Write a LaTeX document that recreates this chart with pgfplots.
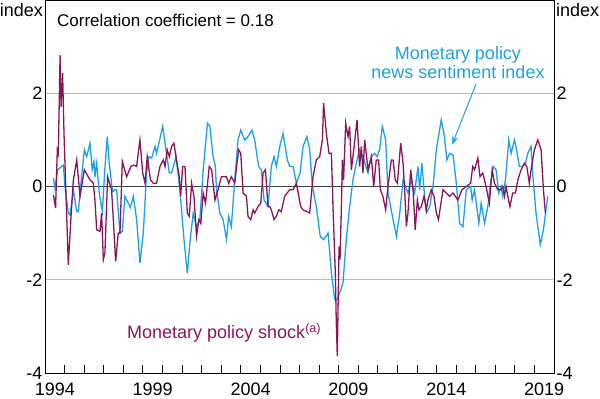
\documentclass[border=0pt]{standalone}
\usepackage{pgfplots}
\pgfplotsset{compat=1.18}
\usetikzlibrary{arrows.meta}
\usepackage{fontspec}
\setmainfont{Liberation Sans}
\definecolor{mpurple}{RGB}{138,22,90}
\definecolor{mblue}{RGB}{30,160,225}
\begin{document}
\begin{tikzpicture}
\path[use as bounding box] (0,0) rectangle (600bp,399bp);
\begin{axis}[
  scale only axis, width=509bp, height=373bp,
  at={(45bp,26bp)}, anchor=south west,
  xmin=1994, xmax=2020, ymin=-4, ymax=4,
  axis line style={line width=0.8bp},
  xtick={1994.5,1999.5,2004.5,2009.5,2014.5,2019.5},
  xticklabels={1994,1999,2004,2009,2014,2019},
  minor xtick={1995,...,2019},
  ytick={-4,-2,0,2},
  yticklabels={-4,-2,0,2},
  major tick length=0pt, minor tick length=8bp,
  tick align=inside,
  xtick pos=left, ytick pos=left,
  tick style={black, line width=0.8bp},
  ymajorgrids, grid style={gray!55, line width=0.8bp},
  ticklabel style={font=\fontsize{18bp}{20bp}\selectfont},
  xticklabel style={yshift=-6bp},
  yticklabel style={xshift=1bp},
  clip=false,
]
\addplot[black!75, line width=1.3bp, forget plot] coordinates {(1994,0) (2020,0)};
\addplot[mblue, line width=1.3bp] coordinates {
(1994.43,0.18)(1994.51,-0.04)(1994.65,0.36)(1994.94,0.46)(1995.02,0)(1995.19,-0.57)(1995.28,-0.61)(1995.45,-0.07)(1995.62,-0.54)(1995.70,-0.54)(1995.87,0.21)(1996.01,0.79)(1996.13,0.64)(1996.30,0.93)(1996.41,0.36)(1996.50,0.54)(1996.55,0.21)(1996.64,0.5)(1996.77,-0.14)(1996.93,-0.54)(1997.06,0.39)(1997.18,1.07)(1997.28,0.5)(1997.45,-0.11)(1997.57,-0.07)(1997.66,-0.07)(1997.83,-1.0)(1997.95,-0.96)(1998.08,-0.21)(1998.36,-0.45)(1998.51,-0.21)(1998.68,-0.71)(1998.85,-1.64)(1999.02,-1.0)(1999.19,0.29)(1999.31,0.64)(1999.45,0.61)(1999.62,0.86)(1999.70,0.71)(2000.01,1.29)(2000.18,0.79)(2000.35,0.29)(2000.47,0.29)(2000.69,0.64)(2000.89,-0.07)(2001.10,-1.14)(2001.27,-1.86)(2001.40,-1.21)(2001.57,-0.57)(2001.74,-0.86)(2001.91,-0.71)(2002.08,0.36)(2002.30,1.36)(2002.42,1.29)(2002.59,0.64)(2002.70,0.43)(2002.76,-0.07)(2002.93,-0.57)(2003.10,-0.71)(2003.27,-1.14)(2003.38,-0.64)(2003.52,-0.86)(2003.69,0.14)(2003.86,1.0)(2004.00,1.21)(2004.20,1.0)(2004.37,1.07)(2004.57,1.21)(2004.71,1.0)(2004.91,0.43)(2005.05,0.36)(2005.19,-0.29)(2005.39,-0.43)(2005.56,0.43)(2005.70,0.64)(2005.82,0.43)(2005.99,0.86)(2006.16,1.14)(2006.38,0.57)(2006.50,0.43)(2006.67,0.43)(2006.84,0.07)(2007.03,0.29)(2007.18,0.86)(2007.38,1.07)(2007.52,0.79)(2007.66,0)(2007.86,-0.43)(2008.06,-1.07)(2008.23,-1.14)(2008.46,-1.0)(2008.63,-1.86)(2008.80,-2.43)(2008.91,-2.43)(2009.05,-2.29)(2009.22,-2.07)(2009.39,-1.14)(2009.56,-0.43)(2009.73,0.14)(2009.90,0.5)(2010.07,0.79)(2010.24,0.64)(2010.50,0.29)(2010.67,0.64)(2010.84,0.71)(2010.96,0.64)(2011.09,0.79)(2011.23,1.29)(2011.40,1.0)(2011.52,-0.14)(2011.78,-0.71)(2011.95,-1.07)(2012.12,-0.57)(2012.29,0.14)(2012.54,-0.14)(2012.71,0.14)(2012.88,-0.14)(2013.05,0.43)(2013.14,-0.07)(2013.25,0.5)(2013.36,-0.07)(2013.48,-0.57)(2013.65,-0.43)(2013.82,0)(2013.99,0.79)(2014.24,1.43)(2014.38,1.14)(2014.53,0.57)(2014.67,0.71)(2014.84,0.68)(2015.01,0.07)(2015.18,-0.79)(2015.35,-0.86)(2015.52,-0.07)(2015.74,0)(2015.82,-0.29)(2015.94,-0.07)(2016.16,-0.79)(2016.28,-0.36)(2016.45,-0.79)(2016.62,-0.43)(2016.73,0)(2016.90,0.43)(2017.04,0.36)(2017.18,-0.14)(2017.30,0)(2017.38,-0.21)(2017.52,0.14)(2017.69,1.0)(2017.81,0.71)(2017.98,1.0)(2018.09,0.79)(2018.23,0.43)(2018.40,0.43)(2018.54,0.5)(2018.66,0.71)(2018.83,0.86)(2018.91,0.29)(2019.08,-0.57)(2019.22,-1.0)(2019.30,-1.25)(2019.46,-0.93)(2019.68,-0.21)
};
\addplot[mpurple, line width=1.3bp] coordinates {
(1994.43,-0.18)(1994.54,-0.46)(1994.63,0.79)(1994.68,0.71)(1994.77,2.82)(1994.82,1.71)(1994.90,2.43)(1994.97,1.14)(1995.19,-1.68)(1995.33,-0.64)(1995.45,0.14)(1995.62,0.57)(1995.79,-0.21)(1996.01,0.36)(1996.30,0.14)(1996.47,0.07)(1996.55,-0.29)(1996.64,-0.93)(1996.81,-0.96)(1996.89,-0.57)(1996.98,-1.57)(1997.06,-1.43)(1997.20,0.21)(1997.40,-0.07)(1997.49,-0.71)(1997.61,-1.61)(1997.74,-1.0)(1997.83,-1.0)(1997.95,0.54)(1998.17,0.21)(1998.39,0.43)(1998.51,0.46)(1998.68,0.43)(1998.85,1.0)(1998.99,0.29)(1999.11,0.07)(1999.22,0.64)(1999.39,0.14)(1999.53,0.07)(1999.70,0.07)(1999.87,0.43)(2000.04,0.57)(2000.13,0.43)(2000.24,0.79)(2000.35,0.64)(2000.47,0.86)(2000.58,0.93)(2000.72,0.57)(2000.86,0.21)(2000.93,-0.21)(2001.03,0.43)(2001.15,0.43)(2001.27,-0.57)(2001.37,-0.64)(2001.49,0.07)(2001.61,-0.21)(2001.74,-1.07)(2001.86,-0.71)(2001.96,-0.79)(2002.08,-0.14)(2002.20,-0.36)(2002.39,0.43)(2002.51,0.36)(2002.68,-0.29)(2002.84,-0.07)(2003.01,0.21)(2003.27,0.21)(2003.38,0.07)(2003.52,0.21)(2003.61,0.14)(2003.69,0.07)(2003.89,0.79)(2004.00,0.71)(2004.12,-0.14)(2004.29,-0.21)(2004.37,-0.64)(2004.51,-0.71)(2004.63,-0.5)(2004.71,-0.57)(2004.88,-0.43)(2005.02,-0.36)(2005.14,0.29)(2005.26,0.36)(2005.39,-0.43)(2005.48,-0.43)(2005.56,-0.5)(2005.70,-0.71)(2005.82,-0.64)(2005.94,-0.5)(2006.07,-0.54)(2006.24,-0.21)(2006.50,-0.07)(2006.67,-0.07)(2006.84,0.07)(2007.06,-0.43)(2007.18,-0.5)(2007.52,-0.57)(2007.69,0.21)(2007.86,0.57)(2008.03,0.64)(2008.17,1.0)(2008.23,1.79)(2008.37,1.14)(2008.51,0.71)(2008.63,0.71)(2008.71,-0.43)(2008.83,-1.86)(2008.88,-2.93)(2008.93,-3.64)(2009.02,-1.29)(2009.07,-1.57)(2009.14,-0.43)(2009.19,0.57)(2009.25,0.14)(2009.36,1.36)(2009.48,1.07)(2009.56,1.29)(2009.65,0.36)(2009.77,0.79)(2009.94,1.43)(2010.07,0.43)(2010.16,0.86)(2010.24,0.29)(2010.33,1.0)(2010.50,0.36)(2010.67,0.64)(2010.79,0)(2010.92,0.57)(2011.04,0.57)(2011.13,-0.07)(2011.26,-0.21)(2011.40,-0.5)(2011.52,0)(2011.69,0.57)(2011.78,0.57)(2011.89,0.14)(2012.00,0.07)(2012.17,0.93)(2012.29,0.5)(2012.37,-0.07)(2012.46,-0.86)(2012.54,-0.57)(2012.68,0.36)(2012.80,-0.07)(2012.91,-0.93)(2013.02,-0.29)(2013.10,-0.5)(2013.22,-0.43)(2013.36,-0.21)(2013.48,-0.5)(2013.56,-0.29)(2013.73,-0.07)(2013.87,-0.21)(2013.99,-0.57)(2014.10,-0.71)(2014.33,-0.07)(2014.50,-0.14)(2014.67,-0.21)(2014.84,-0.14)(2014.96,-0.21)(2015.09,-0.29)(2015.30,-0.07)(2015.52,0)(2015.74,0.07)(2015.85,0.43)(2015.94,0.36)(2016.11,0.61)(2016.22,0.21)(2016.36,0.29)(2016.53,0)(2016.70,-0.36)(2016.84,0.36)(2016.96,0.07)(2017.13,-0.07)(2017.30,-0.07)(2017.38,0)(2017.47,-0.21)(2017.55,0)(2017.64,-0.21)(2017.75,-0.43)(2017.89,-0.14)(2018.03,-0.14)(2018.15,0.14)(2018.32,0.36)(2018.49,0.5)(2018.61,0.43)(2018.74,0.07)(2018.83,0.36)(2019.00,0.79)(2019.17,1.0)(2019.34,0.79)(2019.46,-0.07)(2019.56,-0.57)
};
\end{axis}
\begin{axis}[
  scale only axis, width=509bp, height=373bp,
  at={(45bp,26bp)}, anchor=south west,
  xmin=1994, xmax=2020, ymin=-4, ymax=4,
  hide x axis, axis y line*=right,
  axis line style={line width=0.8bp},
  ytick={-4,-2,0,2}, yticklabels={-4,-2,0,2},
  major tick length=0pt,
  ticklabel style={font=\fontsize{18bp}{20bp}\selectfont},
  yticklabel style={xshift=-1bp},
]
\addplot[draw=none] coordinates {(1994,0)};
\end{axis}
\node[anchor=east, inner sep=0pt, font=\fontsize{18bp}{20bp}\selectfont] at (43bp,389bp) {index};
\node[anchor=west, inner sep=0pt, font=\fontsize{18bp}{20bp}\selectfont] at (556bp,389bp) {index};
\node[anchor=west, inner sep=0pt, font=\fontsize{17bp}{20bp}\selectfont] at (57bp,379bp) {Correlation coefficient = 0.18};
\node[align=center, inner sep=0pt, text=mblue, font=\fontsize{18bp}{19.5bp}\selectfont] at (458bp,336.5bp) {Monetary policy\\news sentiment index};
\draw[mblue, line width=1bp, -{Stealth[length=9bp,width=6bp]}] (476bp,315bp) -- (452bp,254bp);
\node[anchor=west, inner sep=0pt, text=mpurple, font=\fontsize{18bp}{20bp}\selectfont] at (127bp,66bp) {Monetary policy shock\textsuperscript{(a)}};
\end{tikzpicture}
\end{document}
